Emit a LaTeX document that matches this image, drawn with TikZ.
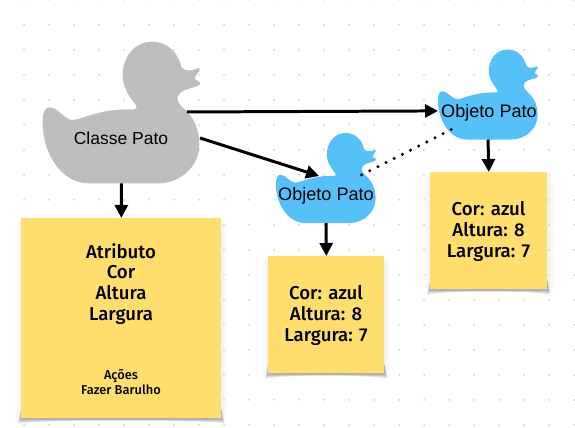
\documentclass[tikz,border=0pt]{standalone}
\usepackage{fontspec}
\setmainfont{Liberation Sans}
\newfontfamily\notafont[UprightFont=* Medium]{Fira Sans}
\usetikzlibrary{arrows.meta}
\usetikzlibrary{backgrounds}

\definecolor{patocinza}{HTML}{BEBEBE}
\definecolor{patoazul}{HTML}{56C1F8}
\definecolor{notaamarela}{HTML}{FFDE6E}

\tikzset{
  seta/.style={-{Triangle[length=7.4pt,width=7.4pt]},line width=1.7pt,black},
  pontos/.style={line width=1.9pt,line cap=round,dash pattern=on 0pt off 5.2pt,black},
  rotulo/.style={font=\fontsize{9.95}{12}\selectfont,inner sep=0pt,text depth=0pt,black},
  rotuloobjeto/.style={rotulo,font=\fontsize{10.3}{12}\selectfont},
  nota/.style={fill=notaamarela,inner sep=0pt,anchor=north west},
  notatexto/.style={align=center,inner sep=0pt,font=\notafont\fontsize{10.6}{11.9}\selectfont},
  notamenor/.style={align=center,inner sep=0pt,font=\notafont\fontsize{7.3}{8.5}\selectfont},
}

% duck outline, in its own units
\newcommand{\patopath}{(68,310) .. controls (68,275) and (75,262) .. (90,262)
  .. controls (112,262) and (135,300) .. (158,300)
  .. controls (185,298) and (240,268) .. (320,268)
  .. controls (335,268) and (350,270) .. (350,262)
  .. controls (350,250) and (308,220) .. (308,165)
  .. controls (308,105) and (350,65) .. (395,65)
  .. controls (445,65) and (475,100) .. (485,143)
  .. controls (495,155) and (520,153) .. (532,145)
  .. controls (540,142) and (542,150) .. (535,158)
  .. controls (530,165) and (522,172) .. (526,178)
  .. controls (532,182) and (542,186) .. (540,192)
  .. controls (535,200) and (510,205) .. (495,210)
  .. controls (480,215) and (470,230) .. (473,240)
  .. controls (476,255) and (495,268) .. (505,280)
  .. controls (525,300) and (538,335) .. (538,375)
  .. controls (538,440) and (480,490) .. (415,490)
  -- (205,490)
  .. controls (125,490) and (68,400) .. (68,310) -- cycle}

% name, x shift, y shift, scale, colour
\newcommand{\pato}[5]{
\begin{scope}[shift={(#2,#3)},scale=#4]
\fill[#5] \patopath;
\coordinate (#1-pe) at (304,490);
\coordinate (#1-peito) at (501,276);
\coordinate (#1-barriga) at (540,354);
\coordinate (#1-cauda) at (68,355);
\coordinate (#1-costas) at (271,268);
\coordinate (#1-asa) at (472,263);
\coordinate (#1-base) at (164,426);
\end{scope}
}

% lifted corners under a note
\newcommand{\notasombra}[1]{
\begin{scope}[on background layer]
\foreach \s in {1,...,6}{
  \fill[black,opacity=0.05] ([yshift=5pt]#1.south west) -- ([xshift=-\s*0.3pt,yshift=-\s*0.5pt]#1.south west)
    .. controls ([xshift=14pt,yshift=\s*0.12pt-1pt]#1.south west) and ([xshift=-14pt,yshift=\s*0.12pt-1pt]#1.south east) ..
    ([xshift=\s*0.3pt,yshift=-\s*0.5pt]#1.south east) -- ([yshift=5pt]#1.south east) -- cycle;
  \fill[black,opacity=0.008] ([xshift=-\s*0.6pt,yshift=-\s*0.3pt]#1.south west) rectangle ([xshift=\s*0.6pt,yshift=-\s*0.6pt]#1.north east);
}
\end{scope}
}

\begin{document}
\begin{tikzpicture}[x=0.02cm,y=-0.02cm,>=Stealth]
\useasboundingbox (0,0) rectangle (575,428);

%grid of dots
\foreach \i in {0,...,22}{
  \foreach \j in {0,...,17}{
    \fill[black!32] ({24+25*\i},{25*\j}) circle (0.75);
  }
}

%ducks
\pato{classe}{20}{20}{0.3333}{patocinza}
\pato{objetoa}{261.6}{119.2}{0.2119}{patoazul}
\pato{objetob}{423.6}{35.7}{0.2119}{patoazul}

\node[rotulo] (textoclasse) at (121,138) {Classe Pato};
\node[rotuloobjeto] (textoa) at (326,194) {Objeto Pato};
\node[rotuloobjeto] (textob) at (489,111) {Objeto Pato};

%notes
\node[nota,minimum width=4cm,minimum height=4cm] (notaclasse) at (21,218) {};
\node[nota,minimum width=2.32cm,minimum height=2.34cm] (notaa) at (268,256) {};
\node[nota,minimum width=2.34cm,minimum height=2.34cm] (notab) at (430,172) {};

\node[notatexto] (atributos) at (121,284) {Atributo\\Cor\\Altura\\Largura};
\node[notamenor] (acoes) at (121,382) {Ações\\Fazer Barulho};
\node[notatexto] (valoresa) at (326,315.5) {Cor: azul\\Altura: 8\\Largura: 7};
\node[notatexto] (valoresb) at (488.5,231.5) {Cor: azul\\Altura: 8\\Largura: 7};

\notasombra{notaclasse}
\notasombra{notaa}
\notasombra{notab}

%connectors
\draw[seta] (classe-pe) -- (notaclasse.north);
\draw[seta] (objetoa-pe) -- (notaa.north);
\draw[seta] (objetob-pe) -- (notab.north);
\draw[seta] (classe-peito) -- (objetob-cauda);
\draw[seta] (classe-barriga) -- (objetoa-costas);
\draw[pontos] (objetoa-asa) -- (objetob-base);

\end{tikzpicture}
\end{document}
